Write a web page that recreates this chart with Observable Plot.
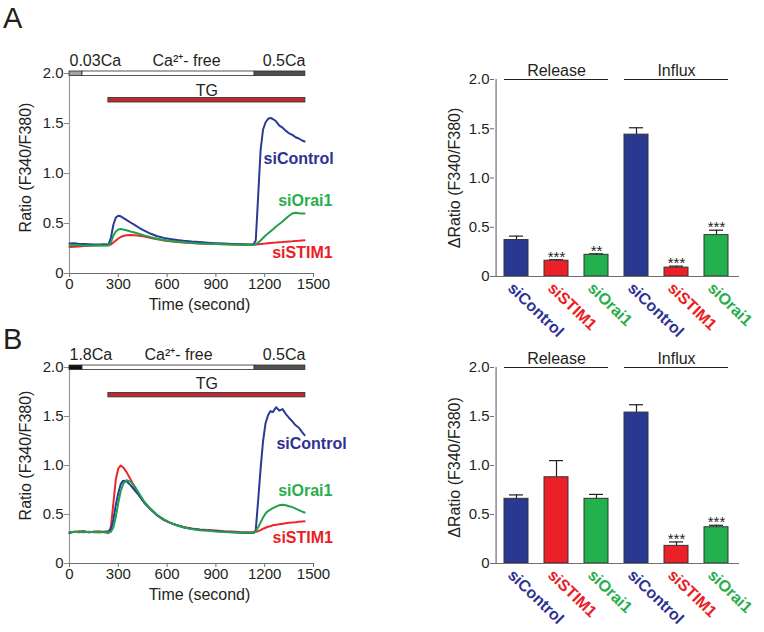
<!DOCTYPE html>
<html><head><meta charset="utf-8">
<script src="https://cdn.jsdelivr.net/npm/d3@7"></script>
<script src="https://cdn.jsdelivr.net/npm/@observablehq/plot@0.6"></script>
<style>
body{margin:0;background:#fff;}
#fig{position:relative;width:764px;height:632px;overflow:hidden;background:#fff;font-family:"Liberation Sans",Arial,Helvetica,sans-serif;color:#231f20;}
.panel{position:absolute;}
.plab{position:absolute;font-size:29px;line-height:29px;color:#231f20;z-index:2;}
</style></head><body>
<div id="fig">
  <div class="panel" id="lineA" style="left:0px;top:0px"></div>
  <div class="panel" id="lineB" style="left:0px;top:300px"></div>
  <div class="panel" id="barA" style="left:400px;top:0px"></div>
  <div class="panel" id="barB" style="left:400px;top:300px"></div>
  <div class="plab" style="left:3px;top:4px">A</div>
  <div class="plab" style="left:3px;top:325px">B</div>
</div>
<script>
// ---------- trace data (time in s, ratio F340/F380) ----------
const timeS = [0,30,60,90,120,150,180,210,240,255,270,285,300,315,330,350,375,400,430,460,500,540,580,620,660,700,750,800,850,900,950,1000,1050,1100,1130,1145,1160,1175,1190,1205,1220,1235,1250,1270,1290,1310,1330,1350,1370,1390,1410,1430,1445];

const ctrlA = [0.30,0.302,0.296,0.294,0.292,0.291,0.29,0.292,0.29,
  0.36,0.49,0.56,0.578,0.572,0.556,0.536,0.51,0.486,
  0.455,0.428,0.397,0.372,0.356,0.345,0.336,0.328,0.32,
  0.314,0.308,0.303,0.299,0.296,0.293,0.291,0.29,
  0.33,0.78,1.24,1.44,1.51,1.545,1.557,1.545,
  1.522,1.478,1.458,1.426,1.402,1.386,1.362,1.35,1.33,1.32];
const stimA = [0.265,0.268,0.27,0.274,0.278,0.28,0.282,0.283,0.285,
  0.29,0.31,0.33,0.35,0.365,0.375,0.382,0.385,0.383,
  0.378,0.37,0.356,0.342,0.331,0.322,0.316,0.31,0.305,
  0.30,0.297,0.294,0.292,0.29,0.289,0.288,0.288,
  0.29,0.292,0.295,0.298,0.30,0.303,0.306,0.308,
  0.31,0.313,0.315,0.318,0.32,0.322,0.325,0.327,0.33,0.332];
const oraiA = [0.28,0.284,0.282,0.28,0.281,0.28,0.282,0.281,0.28,
  0.31,0.38,0.42,0.44,0.445,0.44,0.432,0.42,0.41,
  0.395,0.38,0.362,0.347,0.336,0.326,0.319,0.313,0.306,
  0.301,0.297,0.294,0.292,0.29,0.288,0.287,0.287,
  0.29,0.31,0.33,0.355,0.38,0.40,0.42,0.44,
  0.47,0.495,0.52,0.55,0.577,0.60,0.607,0.603,0.60,0.60];

const ctrlB = [0.31,0.325,0.32,0.326,0.32,0.324,0.318,0.325,0.33,
  0.35,0.45,0.6,0.72,0.81,0.845,0.84,0.8,0.75,
  0.69,0.62,0.55,0.49,0.445,0.415,0.39,0.37,0.355,
  0.345,0.338,0.332,0.325,0.318,0.314,0.31,0.31,
  0.34,0.65,0.97,1.25,1.43,1.51,1.555,1.545,
  1.595,1.56,1.575,1.525,1.485,1.45,1.41,1.385,1.34,1.31];
const stimB = [0.32,0.322,0.33,0.328,0.318,0.325,0.33,0.322,0.31,
  0.38,0.62,0.86,0.97,1.0,0.98,0.935,0.86,0.78,
  0.69,0.62,0.55,0.49,0.445,0.415,0.392,0.372,0.357,
  0.347,0.341,0.336,0.33,0.326,0.322,0.32,0.32,
  0.322,0.33,0.34,0.355,0.365,0.375,0.38,0.39,
  0.395,0.40,0.405,0.41,0.415,0.418,0.42,0.425,0.428,0.43];
const oraiB = [0.32,0.325,0.322,0.32,0.324,0.32,0.322,0.32,0.32,
  0.325,0.37,0.48,0.62,0.74,0.81,0.85,0.835,0.79,
  0.71,0.63,0.555,0.495,0.45,0.415,0.39,0.37,0.352,
  0.34,0.333,0.326,0.321,0.318,0.316,0.315,0.315,
  0.33,0.37,0.42,0.47,0.51,0.535,0.55,0.565,
  0.58,0.595,0.60,0.595,0.585,0.575,0.56,0.545,0.53,0.52];

// protocol bars
const bandTimes = [0, 80, 1138, 1450];
const bandLabelsA = ["0.03Ca", "Ca\u00B2\u207A- free", "0.5Ca"];
const bandLabelsB = ["1.8Ca", "Ca\u00B2\u207A- free", "0.5Ca"];
const tgTimes = [239, 1450];

// axes ticks
const ticksX = [0, 300, 600, 900, 1200, 1500];
const ticksY = [0, 0.5, 1, 1.5, 2];

// ---------- bar data ----------
const barKeys = ["rel-siControl","rel-siSTIM1","rel-siOrai1","inf-siControl","inf-siSTIM1","inf-siOrai1"];
const barGroups = ["Release","Release","Release","Influx","Influx","Influx"];
const barConds = ["siControl","siSTIM1","siOrai1","siControl","siSTIM1","siOrai1"];
const meanA = [0.37, 0.16, 0.22, 1.44, 0.09, 0.42];
const semA  = [0.04, 0.01, 0.01, 0.07, 0.015, 0.05];
const starsA = ["", "***", "**", "", "***", "***"];
const meanB = [0.66, 0.88, 0.66, 1.54, 0.18, 0.37];
const semB  = [0.04, 0.17, 0.045, 0.08, 0.04, 0.02];
const starsB = ["", "", "", "", "***", "***"];

// ---------- styles ----------
const FONT = '"Liberation Sans", Arial, Helvetica, sans-serif';
const traceColor = {siControl: "#2b3b94", siSTIM1: "#e8272e", siOrai1: "#21a04b"};
const labelColor = {siControl: "#2e3192", siSTIM1: "#ec1c24", siOrai1: "#2aad4c"};
const barColor = {siControl: "#293991", siSTIM1: "#ec2027", siOrai1: "#22b14c"};
const fmtY = d => d === 0 ? "0" : d.toFixed(1);
const baseStyle = {fontFamily: FONT, fontSize: "15px", color: "#231f20", background: "transparent", overflow: "visible"};

function linePlot(cfg) {
  const rows = [];
  for (const [name, vals] of cfg.series) vals.forEach((v, i) => rows.push({t: timeS[i], v, s: name}));
  const segs = cfg.bandLabels.map((lab, i) => ({x1: bandTimes[i], x2: bandTimes[i + 1], fill: cfg.bandFills[i], lab}));
  return Plot.plot({
    width: 330, height: cfg.height,
    marginLeft: 69, marginRight: 17, marginTop: cfg.marginTop, marginBottom: 47,
    style: baseStyle,
    x: {domain: [0, 1500]},
    y: {domain: [0, 2]},
    color: {type: "identity"},
    marks: [
      Plot.axisX({ticks: ticksX, tickSize: 4, tickPadding: 1, tickFormat: d => String(d), label: null, stroke: "#6d6e71", fill: "#231f20"}),
      Plot.axisY({ticks: ticksY, tickSize: 5, tickPadding: 1, tickFormat: fmtY, label: null, stroke: "#8a8a8a", fill: "#231f20"}),
      Plot.ruleX([0], {stroke: "#9a9a9a", strokeWidth: 1.2}),
      Plot.ruleY([0], {stroke: "#6d6e71", strokeWidth: 1.2}),
      Plot.rect(segs, {x1: "x1", x2: "x2", y1: 1.975, y2: 2.02, fill: "fill", stroke: "#2b2b2b", strokeWidth: 0.8}),
      Plot.text([segs[0]], {x: "x1", y: 2.13, text: "lab", textAnchor: "start", fontSize: 16}),
      Plot.text([segs[1]], {x: d => (d.x1 + d.x2) / 2, y: 2.13, text: "lab", dx: cfg.freeDx, fontSize: 16}),
      Plot.text([segs[2]], {x: "x2", y: 2.13, text: "lab", textAnchor: "end", fontSize: 16}),
      Plot.rect([tgTimes], {x1: d => d[0], x2: d => d[1], y1: cfg.tgY[0], y2: cfg.tgY[1], fill: "#bd2a33", stroke: "#2b2b2b", strokeWidth: 0.8}),
      Plot.text([tgTimes], {x: d => (d[0] + d[1]) / 2, y: 1.83, text: () => "TG", fontSize: 16}),
      Plot.line(rows, {x: "t", y: "v", z: "s", stroke: d => traceColor[d.s], strokeWidth: 2}),
      Plot.text(cfg.labels, {x: "x", y: "y", text: "text", textAnchor: "start", fill: d => labelColor[d.text], fontWeight: "bold", fontSize: 16}),
      Plot.text(["Ratio (F340/F380)"], {text: d => d, frameAnchor: "left", textAnchor: "middle", lineAnchor: "middle", rotate: -90, dx: -44, dy: cfg.titleDy, fontSize: 16}),
      Plot.text(["Time (second)"], {text: d => d, frameAnchor: "bottom", textAnchor: "middle", lineAnchor: "middle", dx: 8, dy: 31, fontSize: 16})
    ]
  });
}

function barPlot(cfg) {
  const data = barKeys.map((k, i) => ({key: k, group: barGroups[i], cond: barConds[i], mean: cfg.mean[i], top: cfg.mean[i] + cfg.sem[i], stars: cfg.stars[i]}));
  const groups = [...new Set(barGroups)].map(g => {
    const ks = barKeys.filter((k, i) => barGroups[i] === g);
    return {name: g, first: ks[0], mid: ks[1], last: ks[ks.length - 1]};
  });
  const width = 364, mL = 94, mR = 25;
  const pIn = 0.39, pOut = 0.195;
  const step = (width - mL - mR) / barKeys.length;
  const axisDx = -(pOut + (1 - pIn) / 2) * step;
  return Plot.plot({
    width, height: cfg.height,
    marginLeft: mL, marginRight: mR, marginTop: cfg.marginTop, marginBottom: cfg.marginBottom,
    style: baseStyle,
    x: {domain: barKeys, paddingInner: pIn, paddingOuter: pOut, axis: null},
    y: {domain: [0, 2]},
    color: {type: "identity"},
    marks: [
      Plot.axisY({ticks: ticksY, tickSize: 4, tickPadding: 1, tickFormat: fmtY, label: null, stroke: "#6d6e71", fill: "#231f20"}),
      Plot.ruleX([barKeys[0]], {x: d => d, dx: axisDx, stroke: "#6d6e71", strokeWidth: 1.2}),
      Plot.ruleX(data, {x: "key", y1: "mean", y2: "top", stroke: "#231f20", strokeWidth: 1.2}),
      Plot.tickY(data, {x: "key", y: "top", insetLeft: 5, insetRight: 5, stroke: "#231f20", strokeWidth: 1.2}),
      Plot.barY(data, {x: "key", y: "mean", fill: d => barColor[d.cond], stroke: "#333", strokeWidth: 1}),
      Plot.ruleY([0], {stroke: "#6d6e71", strokeWidth: 1.2}),
      Plot.text(data.filter(d => d.stars), {x: "key", y: "top", text: "stars", dy: -3, fontSize: 15}),
      Plot.text(data, {x: "key", y: 0, text: "cond", rotate: 44, textAnchor: "start", dx: -6, dy: 9, fill: d => labelColor[d.cond], fontWeight: "bold", fontSize: 16}),
      Plot.ruleY(groups, {y: 2, x1: "first", x2: "last", stroke: "#231f20", strokeWidth: 1.1}),
      Plot.text(groups, {x: "mid", y: 2, text: "name", dy: -9, fontSize: 16}),
      Plot.text(["\u0394Ratio (F340/F380)"], {text: d => d, frameAnchor: "left", textAnchor: "middle", lineAnchor: "middle", rotate: -90, dx: -40, dy: cfg.titleDy, fontSize: 16})
    ]
  });
}

document.getElementById("lineA").append(linePlot({
  height: 320, marginTop: 73, titleDy: -6, freeDx: 18,
  series: [["siSTIM1", stimA], ["siControl", ctrlA], ["siOrai1", oraiA]],
  bandLabels: bandLabelsA, bandFills: ["#a3a3a3", "#ffffff", "#505050"],
  tgY: [1.71, 1.755],
  labels: [{text: "siControl", x: 1193, y: 1.15}, {text: "siOrai1", x: 1283, y: 0.73}, {text: "siSTIM1", x: 1246, y: 0.21}]
}));
document.getElementById("lineB").append(linePlot({
  height: 310, marginTop: 67, titleDy: -10, freeDx: 10,
  series: [["siSTIM1", stimB], ["siControl", ctrlB], ["siOrai1", oraiB]],
  bandLabels: bandLabelsB, bandFills: ["#111111", "#ffffff", "#505050"],
  tgY: [1.695, 1.74],
  labels: [{text: "siControl", x: 1272, y: 1.224}, {text: "siOrai1", x: 1283, y: 0.745}, {text: "siSTIM1", x: 1248, y: 0.265}]
}));
document.getElementById("barA").append(barPlot({
  height: 340, marginTop: 79, marginBottom: 64, titleDy: 0,
  mean: meanA, sem: semA, stars: starsA
}));
document.getElementById("barB").append(barPlot({
  height: 332, marginTop: 67, marginBottom: 69, titleDy: 2,
  mean: meanB, sem: semB, stars: starsB
}));
</script>
</body></html>
